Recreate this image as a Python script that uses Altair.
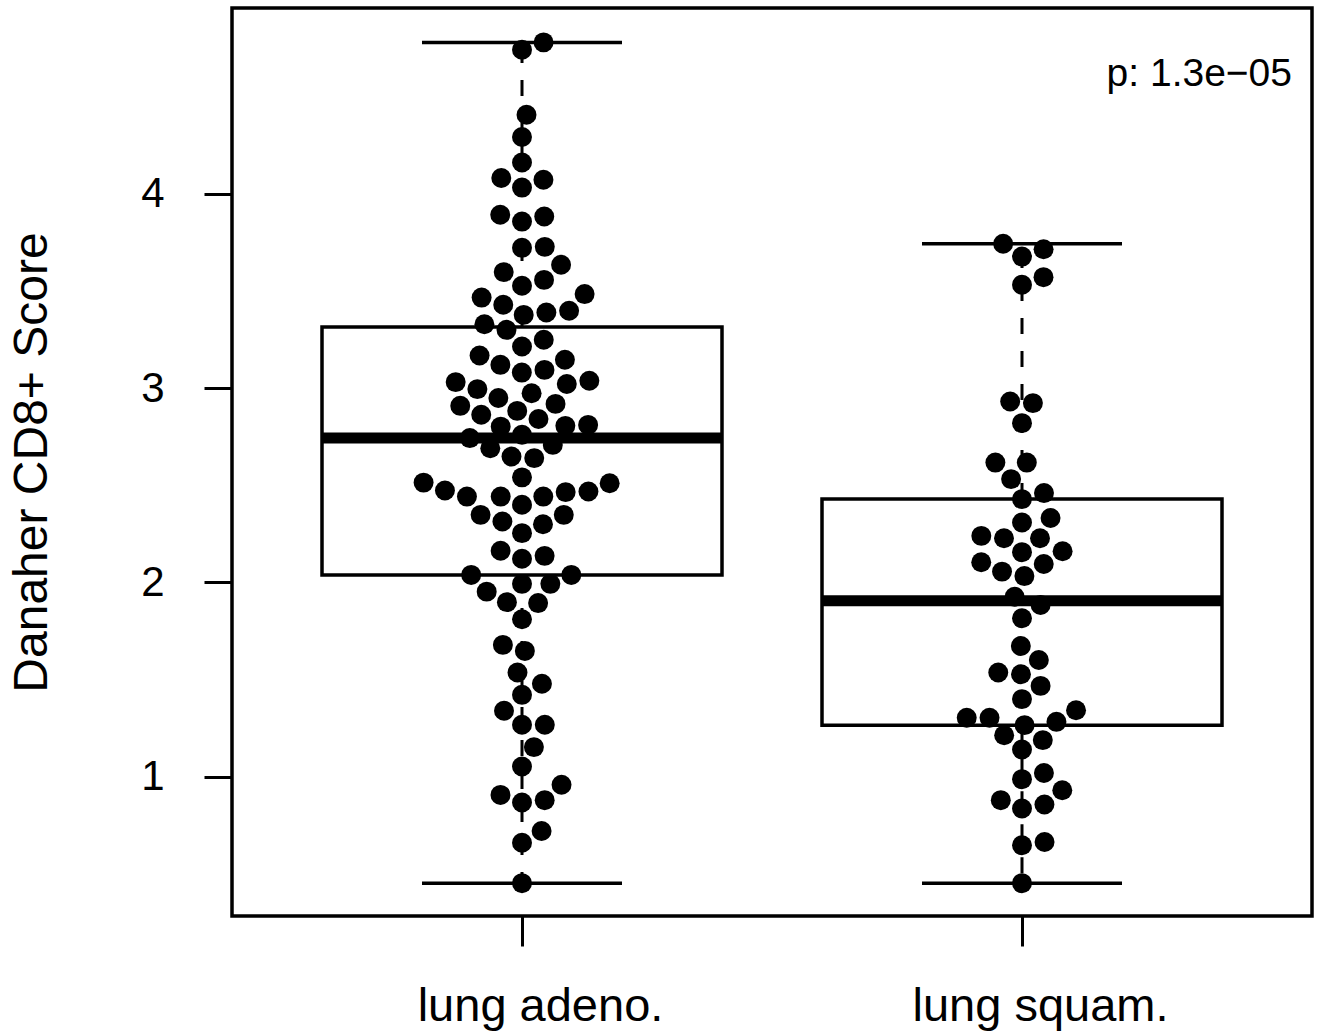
import altair as alt
import numpy as np
import pandas as pd

# ---------------- data ----------------
categories = ["lung adeno.", "lung squam."]

adeno_scores = [
    4.779, 4.741, 4.407, 4.292, 4.161, 4.081, 4.072, 4.032, 3.892, 3.883,
    3.857, 3.727, 3.722, 3.635, 3.597, 3.557, 3.527, 3.484, 3.466, 3.429,
    3.398, 3.389, 3.377, 3.329, 3.300, 3.249, 3.214, 3.168, 3.146, 3.120,
    3.094, 3.080, 3.038, 3.031, 3.021, 2.995, 2.974, 2.949, 2.919, 2.909,
    2.883, 2.863, 2.841, 2.811, 2.806, 2.802, 2.760, 2.743, 2.708, 2.691,
    2.648, 2.640, 2.541, 2.514, 2.511, 2.473, 2.468, 2.465, 2.442, 2.442,
    2.442, 2.400, 2.348, 2.348, 2.314, 2.300, 2.254, 2.163, 2.137, 2.122,
    2.039, 2.039, 1.993, 1.993, 1.953, 1.899, 1.894, 1.811, 1.679, 1.648,
    1.537, 1.479, 1.422, 1.340, 1.268, 1.268, 1.153, 1.053, 0.959, 0.907,
    0.880, 0.868, 0.721, 0.661, 0.453,
]

squam_scores = [
    3.743, 3.715, 3.677, 3.571, 3.532, 2.931, 2.923, 2.820, 2.617, 2.617,
    2.532, 2.460, 2.429, 2.332, 2.309, 2.240, 2.228, 2.228, 2.161, 2.156,
    2.104, 2.095, 2.056, 2.033, 1.927, 1.884, 1.816, 1.673, 1.601, 1.537,
    1.528, 1.468, 1.400, 1.343, 1.304, 1.304, 1.283, 1.266, 1.214, 1.189,
    1.141, 1.020, 0.988, 0.931, 0.880, 0.858, 0.837, 0.665, 0.648, 0.453,
]

p_text = ["p: 1.3e\u221205"]
y_tick_values = [1, 2, 3, 4]
y_title = "Danaher CD8+ Score"

# ---------------- layout ----------------
W, H = 1080, 908
X_DOM = [0.42, 2.58]
Y_DOM = [0.284, 4.956]
FONT = "Liberation Sans"
LW = 3.5

px_x = W / (X_DOM[1] - X_DOM[0])
px_y = H / (Y_DOM[1] - Y_DOM[0])
SPACING = 22.8  # beeswarm spacing in pixels


def swarm_offsets(vals):
    """beeswarm 'swarm' method (priority ascending), offsets in x-data units"""
    y = np.asarray(vals, float) * px_y
    order = np.argsort(y, kind="stable")
    off = np.zeros(len(y))
    placed = []
    for i in order:
        near = [j for j in placed if abs(y[i] - y[j]) < SPACING]
        if near:
            near.sort(key=lambda j: abs(off[j]))
            d = [np.sqrt(SPACING ** 2 - (y[i] - y[j]) ** 2) for j in near]
            cands = ([0.0] + [off[j] + dd for j, dd in zip(near, d)]
                     + [off[j] - dd for j, dd in zip(near, d)])
            ok = [c for c in cands
                  if all((c - off[j]) ** 2 + (y[i] - y[j]) ** 2 >= 0.999 * SPACING ** 2
                         for j in near)]
            off[i] = min(ok, key=abs)
        placed.append(i)
    return off / px_x


def fivenum(v):
    x = np.sort(np.asarray(v, float))
    n = len(x)
    n4 = np.floor((n + 3) / 2) / 2
    d = np.array([1, n4, (n + 1) / 2, n + 1 - n4, n])
    return 0.5 * (x[np.floor(d - 1).astype(int)] + x[np.ceil(d - 1).astype(int)])


groups = [adeno_scores, squam_scores]
pt_rows, box_rows = [], []
for k, (cat, vals) in enumerate(zip(categories, groups)):
    center = k + 1
    offs = swarm_offsets(vals)
    for v, o in zip(vals, offs):
        pt_rows.append({"group": cat, "xpos": center + o, "value": v})
    f = fivenum(vals)
    q1, med, q3 = f[1], f[2], f[3]
    iqr = q3 - q1
    arr = np.asarray(vals)
    hi = arr[arr <= q3 + 1.5 * iqr].max()
    lo = arr[arr >= q1 - 1.5 * iqr].min()
    box_rows.append({"group": cat, "center": center,
                     "left": center - 0.4, "right": center + 0.4,
                     "capl": center - 0.2, "capr": center + 0.2,
                     "q1": q1, "med": med, "q3": q3, "lo": lo, "hi": hi})

points = pd.DataFrame(pt_rows)
boxes = pd.DataFrame(box_rows)
ptext = pd.DataFrame({"label": p_text})

xscale = alt.Scale(domain=X_DOM, nice=False, zero=False)
yscale = alt.Scale(domain=Y_DOM, nice=False, zero=False)

label_expr = f"datum.value == 1 ? '{categories[0]}' : '{categories[1]}'"

xaxis = alt.Axis(values=[1, 2], labelExpr=label_expr, title="", grid=False,
                 domain=False, ticks=True, tickSize=30, tickWidth=3, tickColor="black",
                 labelFont=FONT, labelFontSize=47, labelColor="black", labelPadding=37,
                 labelOffset=18, labelLimit=0, labelOverlap=False)
yaxis = alt.Axis(values=y_tick_values, format="d", title=y_title, grid=False,
                 domain=False, ticks=True, tickSize=28, tickWidth=3, tickColor="black",
                 labelFont=FONT, labelFontSize=42, labelColor="black", labelPadding=40,
                 titleFont=FONT, titleFontSize=48, titleFontWeight="normal",
                 titleColor="black", titleAngle=270, titleX=-200, titleY=H / 2,
                 titleAlign="center", titleBaseline="middle")


def X(field):
    return alt.X(field, scale=xscale, axis=xaxis, title="")


def Y(field):
    return alt.Y(field, scale=yscale, axis=yaxis, title=y_title)


base_pts = alt.Chart(points).mark_circle(size=398, color="black", opacity=1).encode(
    x=X("xpos:Q"), y=Y("value:Q"),
)

bx = alt.Chart(boxes)
rect = bx.mark_rect(fill="transparent", stroke="black", strokeWidth=LW).encode(
    x=X("left:Q"), x2="right:Q", y=Y("q1:Q"), y2="q3:Q",
)
median = bx.mark_rule(color="black", strokeWidth=11).encode(
    x=X("left:Q"), x2="right:Q", y=Y("med:Q"),
)
whisk_hi = bx.mark_rule(color="black", strokeWidth=3, strokeDash=[16, 17]).encode(
    x=X("center:Q"), y=Y("q3:Q"), y2="hi:Q",
)
whisk_lo = bx.mark_rule(color="black", strokeWidth=3, strokeDash=[16, 17]).encode(
    x=X("center:Q"), y=Y("q1:Q"), y2="lo:Q",
)
cap_hi = bx.mark_rule(color="black", strokeWidth=LW).encode(
    x=X("capl:Q"), x2="capr:Q", y=Y("hi:Q"),
)
cap_lo = bx.mark_rule(color="black", strokeWidth=LW).encode(
    x=X("capl:Q"), x2="capr:Q", y=Y("lo:Q"),
)
ptxt = alt.Chart(ptext).mark_text(align="right", baseline="alphabetic", font=FONT,
                                  fontSize=39, color="black").encode(
    x=alt.value(1060), y=alt.value(78), text="label:N",
)

chart = alt.layer(base_pts, whisk_hi, whisk_lo, cap_hi, cap_lo, rect, median, ptxt).properties(
    width=W, height=H,
    autosize=alt.AutoSizeParams(type="none"),
    padding={"left": 232, "top": 8, "right": 9, "bottom": 116},
    background="white",
).configure_view(stroke="black", strokeWidth=LW)

chart.save("out.html", embed_options={"renderer": "svg", "actions": False})
